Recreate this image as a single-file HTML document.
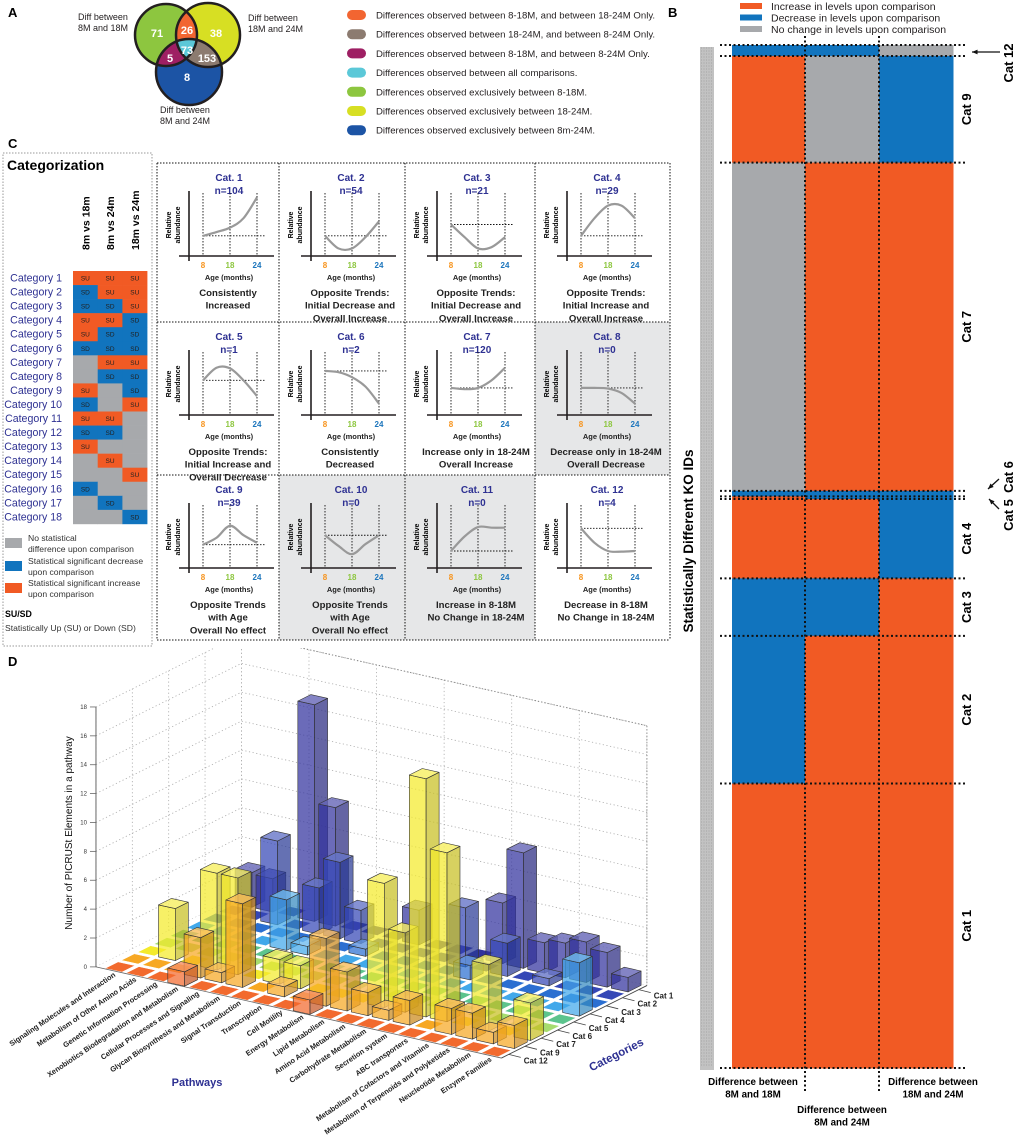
<!DOCTYPE html>
<html><head><meta charset="utf-8"><style>
html,body{margin:0;padding:0;background:#fff;}
svg{display:block;font-family:"Liberation Sans",Arial,sans-serif;}
</style></head><body>
<svg id="fig" width="1020" height="1143" viewBox="0 0 1020 1143" xmlns="http://www.w3.org/2000/svg">
<defs>
<clipPath id="cG"><circle cx="166" cy="35" r="31"/></clipPath>
<clipPath id="cY"><circle cx="208" cy="35" r="32"/></clipPath>
<clipPath id="cB"><circle cx="189" cy="72" r="33"/></clipPath>
<clipPath id="clipD"><rect x="0" y="648" width="690" height="495"/></clipPath>
</defs>
<g id="panelA">
<text x="8" y="17" font-size="13" font-weight="bold">A</text>
<circle cx="166" cy="35" r="31" fill="#8dc63f"/>
<circle cx="208" cy="35" r="32" fill="#d7df23"/>
<circle cx="189" cy="72" r="33" fill="#1c54a5"/>
<g clip-path="url(#cG)"><circle cx="208" cy="35" r="32" fill="#f26531"/><circle cx="189" cy="72" r="33" fill="#9e1f63"/></g>
<g clip-path="url(#cY)"><circle cx="189" cy="72" r="33" fill="#8c7b70"/></g>
<g clip-path="url(#cG)"><g clip-path="url(#cY)"><circle cx="189" cy="72" r="33" fill="#5bc8d8"/></g></g>
<g fill="none" stroke="#231f20" stroke-width="2.5"><circle cx="166" cy="35" r="31"/><circle cx="208" cy="35" r="32"/><circle cx="189" cy="72" r="33"/></g>
<g fill="#fff" font-weight="bold" font-size="11" text-anchor="middle">
<text x="157" y="37">71</text><text x="187" y="34">26</text><text x="216" y="37">38</text>
<text x="187" y="54">73</text><text x="170" y="62">5</text><text x="207" y="62">153</text><text x="187" y="81">8</text></g>
<g font-size="9" fill="#231f20">
<text x="78" y="20">Diff between</text><text x="78" y="31">8M and 18M</text>
<text x="248" y="21">Diff between</text><text x="248" y="32">18M and 24M</text>
<text x="160" y="113">Diff between</text><text x="160" y="124">8M and 24M</text></g>
<g id="legendA"></g>
</g>
<text x="668" y="17" font-size="13" font-weight="bold">B</text>
<g id="panelB"></g>
<text x="8" y="148" font-size="13" font-weight="bold">C</text>
<g id="panelC"></g>
<text x="8" y="666" font-size="13" font-weight="bold">D</text>
<g id="panelD" clip-path="url(#clipD)"></g>
</svg>
<script>
// ---------- data ----------
const vennLegendColors = ['#f26531','#8c7b70','#9e1f63','#5bc8d8','#8dc63f','#d7df23','#1c54a5'];
const vennLegendText = ['Differences observed between 8-18M, and between 18-24M Only.','Differences observed between 18-24M, and between 8-24M Only.','Differences observed between 8-18M, and between 8-24M Only.','Differences observed between all comparisons.','Differences observed exclusively between 8-18M.','Differences observed exclusively between 18-24M.','Differences observed exclusively between 8m-24M.'];

const heatCats = ['Cat 12','Cat 9','Cat 7','Cat 6','Cat 5','Cat 4','Cat 3','Cat 2','Cat 1'];
const heatCounts = [4,39,120,2,1,29,21,54,104];
const heatStatus = [['D','D','N'],['U','N','D'],['N','U','U'],['D','D','D'],['U','D','D'],['U','U','D'],['D','D','U'],['D','U','U'],['U','U','U']];
const heatCols = ['Difference between 8M and 18M','Difference between 8M and 24M','Difference between 18M and 24M'];

const gridLabels = ['Category 1','Category 2','Category 3','Category 4','Category 5','Category 6','Category 7','Category 8','Category 9','Category 10','Category 11','Category 12','Category 13','Category 14','Category 15','Category 16','Category 17','Category 18'];
const gridStatus = [['U','U','U'],['D','U','U'],['D','D','U'],['U','U','D'],['U','D','D'],['D','D','D'],['N','U','U'],['N','D','D'],['U','N','D'],['D','N','U'],['U','U','N'],['D','D','N'],['U','N','N'],['N','U','N'],['N','N','U'],['D','N','N'],['N','D','N'],['N','N','D']];
const gridHeaders = ['8m vs 18m','8m vs 24m','18m vs 24m'];

const trendTitles = ['Cat. 1','Cat. 2','Cat. 3','Cat. 4','Cat. 5','Cat. 6','Cat. 7','Cat. 8','Cat. 9','Cat. 10','Cat. 11','Cat. 12'];
const trendN = [104,54,21,29,1,2,120,0,39,0,0,4];
const trendBase = [0.32,0.32,0.5,0.32,0.55,0.7,0.43,0.43,0.37,0.52,0.27,0.63];
const trendCurves = [[0.32,0.38,0.45,0.6,0.93],[0.32,0.12,0.12,0.3,0.55],[0.5,0.3,0.12,0.14,0.3],[0.32,0.6,0.8,0.8,0.6],[0.55,0.75,0.74,0.55,0.3],[0.7,0.68,0.6,0.45,0.18],[0.43,0.41,0.43,0.55,0.75],[0.43,0.43,0.42,0.35,0.18],[0.37,0.48,0.67,0.52,0.4],[0.52,0.35,0.22,0.38,0.52],[0.27,0.5,0.65,0.64,0.64],[0.63,0.4,0.27,0.26,0.27]];
const trendDesc = [['Consistently','Increased'],['Opposite Trends:','Initial Decrease and','Overall Increase'],['Opposite Trends:','Initial Decrease and','Overall Increase'],['Opposite Trends:','Initial Increase and','Overall Increase'],['Opposite Trends:','Initial Increase and','Overall Decrease'],['Consistently','Decreased'],['Increase only in 18-24M','Overall Increase'],['Decrease only in 18-24M','Overall Decrease'],['Opposite Trends','with Age','Overall No effect'],['Opposite Trends','with Age','Overall No effect'],['Increase in 8-18M','No Change in 18-24M'],['Decrease in 8-18M','No Change in 18-24M']];
const trendShaded = [false,false,false,false,false,false,false,true,false,true,true,false];
const ageTicks = ['8','18','24'];

const pathways = ['Signaling Molecules and Interaction','Metabolism of Other Amino Acids','Genetic Information Processing','Xenobiotics Biodegradation and Metabolism','Cellular Processes and Signaling','Glycan Biosynthesis and Metabolism','Signal Transduction','Transcription','Cell Motility','Energy Metabolism','Lipid Metabolism','Amino Acid Metabolism','Carbohydrate Metabolism','Secretion system','ABC transporters','Metabolism of Cofactors and Vitamins','Metabolism of Terpenoids and Polyketides','Neucleotide Metabolism','Enzyme Families'];
const d3Cats = ['Cat 12','Cat 9','Cat 7','Cat 6','Cat 5','Cat 4','Cat 3','Cat 2','Cat 1'];
const valsCat12 = [0,0,0,1,0,0,0,0,0,1,0,0,0,0,0,0,0,0,0];
const valsCat9  = [0,0,0,2.8,0.7,5.8,0,0.7,0,4.7,2.7,1.6,0.7,1.7,0,1.8,1.8,0.8,1.6];
const valsCat7  = [0,3.6,0,6.7,6.7,0,1.7,1.6,0,0,0,8.6,5.5,16.5,11.7,0,4.6,0,2.6];
const valsCat6  = [0,0,0,0,0,0,0,0,0,0,0,0,0,0,0,0,0,0,0];
const valsCat5  = [0,0,0,0,0,0,0,0,0,0,0,0,0,0,0,0,0,0,0];
const valsCat4  = [0,0,0,0,3.5,0.6,0,0,0,0,0,0,0,0,0,0,0,0,3.7];
const valsCat3  = [0,0,0,0,0,0,0,0.5,0,0,0,0,1,0,0,0,0,0,0];
const valsCat2  = [0,0,5.8,0,3.2,5.3,2.3,0,0,0,0,4.1,0,2.3,0,0.5,0,0,0];
const valsCat1  = [2.4,2.3,0,15,8.2,0,0,0,2.4,0,0,0,4.2,8.0,2.1,2.4,2.8,2.4,1];
const d3Values = [valsCat12,valsCat9,valsCat7,valsCat6,valsCat5,valsCat4,valsCat3,valsCat2,valsCat1];
const zTicks = [0,2,4,6,8,10,12,14,16,18];

// ---------- helpers ----------
const NS='http://www.w3.org/2000/svg';
function mk(tag, attrs, parent, text){
  const e=document.createElementNS(NS,tag);
  for(const k in attrs) e.setAttribute(k,attrs[k]);
  if(text!==undefined) e.textContent=text;
  parent.appendChild(e); return e;
}
const COL={U:'#f15a24',D:'#1174be',N:'#a7a9ac'};

// ---------- A legend ----------
const legA=document.getElementById('legendA');
vennLegendText.forEach((t,k)=>{
  const y=15+19.2*k;
  const r=mk('rect',{x:347,y:y-5,width:19,height:10,rx:5,fill:vennLegendColors[k]},legA);
  
  
  const tx=mk('text',{x:376,y:y+3.5,'font-size':9.6,fill:'#231f20'},legA,t);
  
  
});

// ---------- B heatmap ----------
const pB=document.getElementById('panelB');
const bLeg=[['Increase in levels upon comparison','#f15a24'],['Decrease in levels upon comparison','#1174be'],['No change in levels upon comparison','#a7a9ac']];
bLeg.forEach((l,k)=>{
  const r=mk('rect',{x:740,y:3+11.5*k,width:22,height:6,fill:l[1]},pB);
  
  
  const t=mk('text',{x:771,y:10+11.5*k,'font-size':10.5,fill:'#231f20'},pB,l[0]);
  
  
});
const hx=[732,805,879,953], hTop=45, hBot=1068;
const total=heatCounts.reduce((a,b)=>a+b,0);
const sc=(hBot-hTop)/total;
const stripe=mk('rect',{x:700,y:47,width:14,height:1023,fill:'#c2c2c2'},pB);


for(let yy=48; yy<1068; yy+=3){ mk('line',{x1:701,x2:713,y1:yy,y2:yy,stroke:'#9a9a9a','stroke-width':0.8,'stroke-dasharray':'1 1.5'},pB); }
const yl=mk('text',{x:0,y:0,'font-size':13.5,'font-weight':'bold','text-anchor':'middle',transform:'translate(693,541) rotate(-90)'},pB,'Statistically Different KO IDs');


let cum=0; const bounds=[hTop];
heatCats.forEach((c,r)=>{
  const y0=hTop+cum*sc, h=heatCounts[r]*sc;
  for(let k=0;k<3;k++){
    const cell=mk('rect',{x:hx[k],y:y0,width:hx[k+1]-hx[k]+0.5,height:h+0.5,fill:COL[heatStatus[r][k]]},pB);
    
    
  }
  cum+=heatCounts[r]; bounds.push(hTop+cum*sc);
});
bounds.forEach(y=>{
  const l=mk('line',{x1:720,x2:967,y1:y,y2:y,stroke:'#111','stroke-width':2,'stroke-dasharray':'2 2.5'},pB);
  
  
});
[805,879].forEach(x=>{
  const l=mk('line',{x1:x,x2:x,y1:36,y2:1093,stroke:'#111','stroke-width':2,'stroke-dasharray':'2 2.5'},pB);
  
  
});
cum=0;
heatCats.forEach((c,r)=>{
  const mid=hTop+(cum+heatCounts[r]/2)*sc; cum+=heatCounts[r];
  if(heatCounts[r]<10) return;
  const t=mk('text',{x:0,y:0,'font-size':13,'font-weight':'bold','text-anchor':'middle',transform:`translate(971,${mid}) rotate(-90)`},pB,c);
  
  
});
function arrow(x1,y1,x2,y2){
  mk('line',{x1:x1,y1:y1,x2:x2,y2:y2,stroke:'#111','stroke-width':1.3},pB);
  const a=Math.atan2(y2-y1,x2-x1), s=6;
  mk('polygon',{points:`${x2},${y2} ${x2-s*Math.cos(a-0.4)},${y2-s*Math.sin(a-0.4)} ${x2-s*Math.cos(a+0.4)},${y2-s*Math.sin(a+0.4)}`,fill:'#111'},pB);
}
const c12=mk('text',{x:0,y:0,'font-size':13,'font-weight':'bold','text-anchor':'middle',transform:'translate(1013,63) rotate(-90)'},pB,'Cat 12');


arrow(1000,52,972,52);
const c6=mk('text',{x:0,y:0,'font-size':13,'font-weight':'bold','text-anchor':'middle',transform:'translate(1013,477) rotate(-90)'},pB,'Cat 6');


const c5=mk('text',{x:0,y:0,'font-size':13,'font-weight':'bold','text-anchor':'middle',transform:'translate(1013,515) rotate(-90)'},pB,'Cat 5');


arrow(999,479,988,489); arrow(999,509,989,499);
[['Difference between','8M and 18M',753,1085],['Difference between','18M and 24M',933,1085],['Difference between','8M and 24M',842,1113]].forEach(d=>{
  const t=mk('text',{x:d[2],y:d[3],'font-size':9.8,'font-weight':'bold','text-anchor':'middle'},pB);
  
  
  mk('tspan',{x:d[2],dy:0},t,d[0]); mk('tspan',{x:d[2],dy:12.5},t,d[1]);
});

// ---------- C ----------
const pC=document.getElementById('panelC');
const box=mk('rect',{x:3,y:153,width:149,height:493,fill:'none',stroke:'#999','stroke-width':1,'stroke-dasharray':'1.5 1.5'},pC);


mk('text',{x:7,y:170,'font-size':14,'font-weight':'bold'},pC,'Categorization');
const gx0=73, gw=24.7, gy0=271, gh=14.05;
gridHeaders.forEach((h,k)=>{
  const t=mk('text',{x:0,y:0,'font-size':10.5,'font-weight':'bold',transform:`translate(${gx0+gw*k+gw/2+4},250) rotate(-90)`},pC,h);
  
  
});
gridLabels.forEach((lab,r)=>{
  const t=mk('text',{x:62,y:gy0+gh*r+10.5,'font-size':10.6,fill:'#2e3192','text-anchor':'end'},pC,lab);
  
  
  gridStatus[r].forEach((s,k)=>{
    const cell=mk('rect',{x:gx0+gw*k,y:gy0+gh*r,width:gw+0.3,height:gh+0.3,fill:COL[s]},pC);
    
    
    if(s!=='N') mk('text',{x:gx0+gw*k+gw/2,y:gy0+gh*r+9.5,'font-size':6.5,'text-anchor':'middle',fill:'#222'},pC,s==='U'?'SU':'SD');
  });
});
[['#a7a9ac',538,['No statistical','difference upon comparison']],['#1174be',561,['Statistical significant decrease','upon comparison']],['#f15a24',583,['Statistical significant increase','upon comparison']]].forEach(l=>{
  const r=mk('rect',{x:5,y:l[1],width:17,height:10,fill:l[0]},pC);
  
  
  mk('text',{x:28,y:l[1]+3,'font-size':8.6,fill:'#333'},pC,l[2][0]);
  mk('text',{x:28,y:l[1]+14,'font-size':8.6,fill:'#333'},pC,l[2][1]);
});
mk('text',{x:5,y:617,'font-size':8.8,'font-weight':'bold'},pC,'SU/SD');
mk('text',{x:5,y:631,'font-size':8.6,fill:'#333'},pC,'Statistically Up (SU) or Down (SD)');

const colX=[157,279,405,535,670], rowY=[163,322,475,640];
trendTitles.forEach((t,k)=>{
  const c=k%4, r=Math.floor(k/4);
  if(trendShaded[k]){
    const bg=mk('rect',{x:colX[c],y:rowY[r],width:colX[c+1]-colX[c],height:rowY[r+1]-rowY[r],fill:'#e6e7e8'},pC);
    
    
  }
});
colX.forEach(x=>mk('line',{x1:x,x2:x,y1:163,y2:640,stroke:'#111','stroke-width':1,'stroke-dasharray':'1.5 1.5'},pC));
rowY.forEach(y=>mk('line',{x1:157,x2:670,y1:y,y2:y,stroke:'#111','stroke-width':1,'stroke-dasharray':'1.5 1.5'},pC));
const tickCol=['#f7941d','#8dc63f','#1c75bc'];
function catmull(pts){
  let d=`M${pts[0][0]},${pts[0][1]}`;
  for(let i=0;i<pts.length-1;i++){
    const p0=pts[Math.max(0,i-1)],p1=pts[i],p2=pts[i+1],p3=pts[Math.min(pts.length-1,i+2)];
    d+=` C${p1[0]+(p2[0]-p0[0])/6},${p1[1]+(p2[1]-p0[1])/6} ${p2[0]-(p3[0]-p1[0])/6},${p2[1]-(p3[1]-p1[1])/6} ${p2[0]},${p2[1]}`;
  }
  return d;
}
trendTitles.forEach((title,k)=>{
  const c=k%4, r=Math.floor(k/4), cx=colX[c], cy=rowY[r];
  const g=mk('g',{},pC);
  
  
  const xOf=p=>cx+46+27*p, yOf=v=>cy+93-63*v;
  const tt=mk('text',{x:cx+72,y:cy+18,'font-size':10,'font-weight':'bold','text-anchor':'middle',fill:'#2e3192'},g,title);
  
  
  mk('text',{x:cx+72,y:cy+31,'font-size':10,'font-weight':'bold','text-anchor':'middle',fill:'#2e3192'},g,'n='+trendN[k]);
  ageTicks.forEach((a,i)=>{
    mk('line',{x1:xOf(i),x2:xOf(i),y1:cy+30,y2:cy+93,stroke:'#111','stroke-width':0.9,'stroke-dasharray':'1.5 1.5'},g);
    mk('text',{x:xOf(i),y:cy+105,'font-size':8,'font-weight':'bold','text-anchor':'middle',fill:tickCol[i]},g,a);
  });
  mk('line',{x1:xOf(0),x2:cx+109,y1:yOf(trendBase[k]),y2:yOf(trendBase[k]),stroke:'#111','stroke-width':0.9,'stroke-dasharray':'1.5 1.5'},g);
  mk('line',{x1:cx+32,x2:cx+32,y1:cy+28,y2:cy+98,stroke:'#231f20','stroke-width':1.6},g);
  mk('line',{x1:cx+22,x2:cx+117,y1:cy+93,y2:cy+93,stroke:'#231f20','stroke-width':1.6},g);
  const pts=trendCurves[k].map((v,i)=>[xOf(i*0.5),yOf(v)]);
  const cv=mk('path',{d:catmull(pts),fill:'none',stroke:'#999','stroke-width':2.2},g);
  
  
  mk('text',{x:0,y:0,'font-size':7,'font-weight':'bold','text-anchor':'middle',transform:`translate(${cx+14},${cy+62}) rotate(-90)`},g,'Relative');
  mk('text',{x:0,y:0,'font-size':7,'font-weight':'bold','text-anchor':'middle',transform:`translate(${cx+23},${cy+62}) rotate(-90)`},g,'abundance');
  mk('text',{x:cx+72,y:cy+117,'font-size':7.5,'font-weight':'bold','text-anchor':'middle',fill:'#222'},g,'Age (months)');
  trendDesc[k].forEach((line,li)=>{
    mk('text',{x:cx+71,y:cy+133+12.7*li,'font-size':9.6,'font-weight':'bold','text-anchor':'middle',fill:'#222'},g,line);
  });
});

// ---------- D ----------
const pD=document.getElementById('panelD');
const catColors=['#f26a2e','#f7a823','#f4ea2b','#a6dc6e','#5cc48d','#41a8ea','#2b6fd1','#3447b6','#32329e'];
function P(i,j,z){ return [120+20.9*i+16.25*j, 967+4.7*i-8.1*j-14.44*z]; }
const iA=-0.8, iB=18.6, jA=-0.45, jB=8.5;
function pl(pts){ return pts.map(p=>p[0].toFixed(1)+','+p[1].toFixed(1)).join(' '); }
zTicks.forEach(z=>{
  const a=P(iA,jA,z), b=P(iA,jB,z), c=P(iB,jB,z);
  mk('polyline',{points:pl([a,b,c]),fill:'none',stroke:'#aaa','stroke-width':0.8,'stroke-dasharray':'1.2 2.5'},pD);
});
for(let i=iA;i<=iB+0.01;i+=(iB-iA)/6){ const a=P(i,jB,0),b=P(i,jB,18); mk('line',{x1:a[0],y1:a[1],x2:b[0],y2:b[1],stroke:'#aaa','stroke-width':0.8,'stroke-dasharray':'1.2 2.5'},pD); }
for(let j=jA;j<=jB+0.01;j+=(jB-jA)/4){ const a=P(iA,j,0),b=P(iA,j,18); mk('line',{x1:a[0],y1:a[1],x2:b[0],y2:b[1],stroke:'#aaa','stroke-width':0.8,'stroke-dasharray':'1.2 2.5'},pD); }
(()=>{const a=P(iA,jB,18),b=P(iB,jB,18),c=P(iB,jB,0); mk('polyline',{points:pl([a,b,c]),fill:'none',stroke:'#888','stroke-width':1,'stroke-dasharray':'1.2 2'},pD);})();
mk('polygon',{points:pl([P(iA,jA,0),P(iB,jA,0),P(iB,jB,0),P(iA,jB,0)]),fill:'#fff',stroke:'none'},pD);
(()=>{const a=P(iA,jA,0), b=P(iA,jA,18);
  const ax=mk('line',{x1:a[0],y1:a[1],x2:b[0],y2:b[1],stroke:'#666','stroke-width':1},pD);
  
  
  zTicks.forEach(z=>{ const p=P(iA,jA,z);
    mk('line',{x1:p[0]-6,y1:p[1],x2:p[0],y2:p[1],stroke:'#666','stroke-width':0.8},pD);
    const t=mk('text',{x:p[0]-9,y:p[1]+2,'font-size':6,'text-anchor':'end',fill:'#333'},pD,String(z));
    
    
  });
})();
function shade(hex,f){
  const n=parseInt(hex.slice(1),16); let r=n>>16,g=(n>>8)&255,b=n&255;
  if(f>1){ r=r+(255-r)*(f-1); g=g+(255-g)*(f-1); b=b+(255-b)*(f-1);} else { r*=f; g*=f; b*=f; }
  return `rgb(${r|0},${g|0},${b|0})`;
}
const hw=0.4;
for(let j=d3Cats.length-1;j>=0;j--){
  for(let i=0;i<pathways.length;i++){
    const v=d3Values[j][i], col=catColors[j];
    const a=P(i-hw,j-hw,0), b=P(i+hw,j-hw,0), c=P(i+hw,j+hw,0), d=P(i-hw,j+hw,0);
    if(v<=0){
      const tile=mk('polygon',{points:pl([a,b,c,d]),fill:col,stroke:'#fff','stroke-width':0.5},pD);
      
      
      continue;
    }
    const at=P(i-hw,j-hw,v), bt=P(i+hw,j-hw,v), ct=P(i+hw,j+hw,v), dt=P(i-hw,j+hw,v);
    const g=mk('g',{'stroke':'#333','stroke-width':0.6,'stroke-linejoin':'round'},pD);
    
    
    mk('polygon',{points:pl([a,b,bt,at]),fill:col,'fill-opacity':0.72},g);
    mk('polygon',{points:pl([b,c,ct,bt]),fill:shade(col,0.82),'fill-opacity':0.72},g);
    mk('polygon',{points:pl([at,bt,ct,dt]),fill:shade(col,1.25),'fill-opacity':0.8},g);
  }
}
(()=>{const a=P(iA,jA,0),b=P(iB,jA,0); mk('line',{x1:a[0],y1:a[1],x2:b[0],y2:b[1],stroke:'#666','stroke-width':0.8},pD);
 const c=P(iB,jA,0),e=P(iB,jB,0); const ca=mk('line',{x1:c[0],y1:c[1],x2:e[0],y2:e[1],stroke:'#444','stroke-width':0.9},pD);
 
 })();
pathways.forEach((p,i)=>{
  const x=116+20.9*i, y=976+4.7*i;
  const t=mk('text',{x:0,y:0,'font-size':7.4,'font-weight':'bold','text-anchor':'end',fill:'#222',transform:`translate(${x.toFixed(1)},${y.toFixed(1)}) rotate(-34)`},pD,p);
  
  
});
d3Cats.forEach((c,j)=>{
  const p=P(iB,j,0);
  mk('line',{x1:p[0],y1:p[1],x2:p[0]+12,y2:p[1]+3,stroke:'#444','stroke-width':0.8},pD);
  const t=mk('text',{x:p[0]+15,y:p[1]+9,'font-size':8,'font-weight':'bold',fill:'#222'},pD,c);
  
  
});
const pw=mk('text',{x:197,y:1086,'font-size':11,'font-weight':'bold','text-anchor':'middle',fill:'#2e3192'},pD,'Pathways');


const ct=mk('text',{x:0,y:0,'font-size':11.5,'font-weight':'bold','text-anchor':'middle',fill:'#2e3192',transform:'translate(618,1058) rotate(-27)'},pD,'Categories');


const zt=mk('text',{x:0,y:0,'font-size':10,'text-anchor':'middle',fill:'#111',transform:'translate(72,833) rotate(-90)'},pD,'Number of PICRUSt Elements in a pathway');


</script>
</body></html>
